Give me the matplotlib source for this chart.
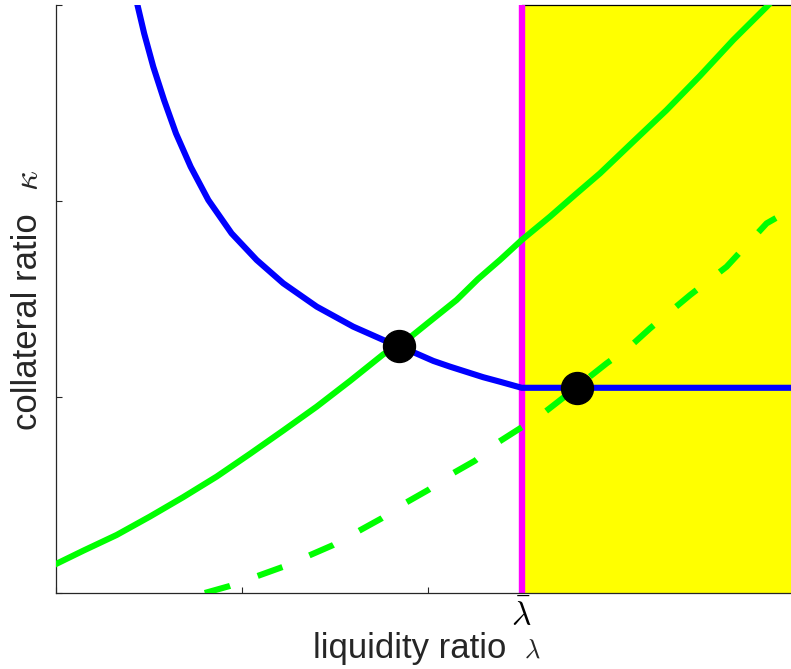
import matplotlib
matplotlib.use("Agg")
import matplotlib.pyplot as plt
from matplotlib.patches import Rectangle

plt.rcParams['font.family'] = ['Liberation Sans', 'DejaVu Sans']
plt.rcParams['mathtext.fontset'] = 'cm'

# curves (liquidity ratio, collateral ratio)
blue_x = [0.438, 0.474, 0.523, 0.581, 0.645, 0.724, 0.819, 0.944, 1.079,
          1.222, 1.402, 1.598, 1.760, 1.846, 2.029, 2.118, 2.297, 2.387,
          2.504, 3.952]
blue_y = [3.000, 2.855, 2.685, 2.515, 2.345, 2.175, 2.005, 1.835, 1.699,
          1.580, 1.461, 1.359, 1.291, 1.260, 1.184, 1.155, 1.101, 1.078,
          1.047, 1.047]

green_x = [0.0, 0.147, 0.326, 0.505, 0.684, 0.864, 1.043, 1.222, 1.402,
           1.581, 1.760, 1.846, 2.000, 2.154, 2.269, 2.387, 2.504, 2.656,
           2.790, 2.925, 3.104, 3.283, 3.462, 3.641, 3.821, 3.830]
green_y = [0.148, 0.216, 0.296, 0.390, 0.489, 0.594, 0.710, 0.829, 0.951,
           1.082, 1.218, 1.260, 1.378, 1.495, 1.602, 1.699, 1.801, 1.920,
           2.031, 2.141, 2.303, 2.464, 2.638, 2.821, 2.991, 3.000]

dash_x = [0.800, 0.935, 1.222, 1.491, 1.751, 1.876, 2.002, 2.127, 2.253,
          2.369, 2.495, 2.620, 2.731, 2.841, 2.961, 3.086, 3.194, 3.409,
          3.606, 3.821, 3.871]
dash_y = [0.000, 0.036, 0.134, 0.245, 0.381, 0.458, 0.526, 0.607, 0.675,
          0.764, 0.840, 0.917, 0.999, 1.082, 1.172, 1.257, 1.350, 1.520,
          1.665, 1.886, 1.913]

eq_x = [1.846, 2.799]
eq_y = [1.260, 1.045]

lam_bar = 2.503
x_max = 3.952
y_max = 3.0
xticks = [0, 1, 2, lam_bar]
xtick_labels = ['', '', '', r'$\bar{\lambda}$']
yticks = [0, 1, 2, 3]

W, H = 791, 669
fig = plt.figure(figsize=(W / 100, H / 100), dpi=100)
ax = fig.add_axes([56 / W, 76 / H, (W - 56) / W, 588 / H])

# region right of lambda bar
ax.add_patch(Rectangle((lam_bar, 0), x_max - lam_bar, y_max,
                       facecolor='#ffff00', edgecolor='none', zorder=1))
ax.plot([lam_bar, x_max], [y_max, y_max], color='black', linewidth=0.9,
        zorder=1.5, clip_on=False)
ax.plot([lam_bar, lam_bar], [0, y_max], color='#ff00ff', linewidth=4.6, zorder=2,
        solid_capstyle='butt')

ax.plot(green_x, green_y, color='#00ff00', linewidth=4.4, zorder=3,
        solid_joinstyle='round')
ax.plot(dash_x, dash_y, color='#00ff00', linewidth=4.4, zorder=3,
        dashes=(4.3, 4.8), dash_capstyle='butt', dash_joinstyle='round')
ax.plot(blue_x, blue_y, color='#0000ff', linewidth=4.4, zorder=4,
        solid_joinstyle='round')
ax.plot(eq_x, eq_y, 'o', color='black', markersize=23, zorder=5)

ax.set_xlim(0, x_max)
ax.set_ylim(0, y_max)
ax.set_xticks(xticks)
ax.set_xticklabels(xtick_labels, fontsize=24)
ax.set_yticks(yticks)
ax.set_yticklabels([])
ax.tick_params(direction='in', length=4, width=0.8, color='#262626', pad=5)
ax.tick_params(axis='x', labelcolor='black')
for s in ['top', 'right']:
    ax.spines[s].set_visible(False)
for s in ['left', 'bottom']:
    ax.spines[s].set_color('#262626')
    ax.spines[s].set_linewidth(0.9)

# axis titles
fig.text(313 / W, 1 - 658 / H, 'liquidity ratio', fontsize=25, color='#262626',
         ha='left', va='baseline')
fig.text(524 / W, 1 - 658 / H, r'$\lambda$', fontsize=19, color='#262626',
         ha='left', va='baseline')
fig.text(37 / W, 1 - 430 / H, 'collateral ratio', fontsize=25, color='#262626',
         rotation=90, rotation_mode='anchor', ha='left', va='baseline')
fig.text(38 / W, 1 - 191 / H, r'$\kappa$', fontsize=25, color='#262626',
         rotation=90, rotation_mode='anchor', ha='left', va='baseline')

fig.savefig('out.png', dpi=100)
